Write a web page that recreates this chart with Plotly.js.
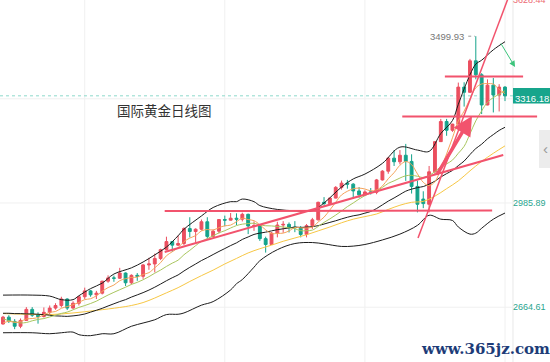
<!DOCTYPE html>
<html><head><meta charset="utf-8">
<script src="https://cdn.plot.ly/plotly-3.0.1.min.js"></script>
<style>html,body{margin:0;padding:0;background:#fff}#c{width:550px;height:362px}</style>
</head><body><div id="c"></div>
<script>
// Daily gold candles, 2024-12-26 .. 2025-04-29 (index positions 0..86)
const open = [2613,2634,2621,2606,2624,2658,2640,2636,2649,2662, 2670,2690,2662,2677,2697,2715,2703,2708,2745,2755, 2754,2770,2740,2763,2760,2795,2798,2815,2842,2867, 2856,2861,2907,2898,2905,2928,2883,2899,2935,2933, 2939,2936,2951,2915,2916,2876,2858,2893,2918,2920, 2912,2910,2889,2916,2934,2988,2984,3001,3034,3047, 3044,3023,3011,3020,3019,3057,3084,3124,3113,3133, 3114,3037,2998,2982,3082,3175,3237,3210,3229,3343, 3327,3424,3381,3288,3349,3319,3343];
const high = [2638,2640,2628,2630,2665,2665,2649,2664,2670,2677, 2697,2692,2683,2699,2725,2718,2715,2746,2763,2762, 2786,2772,2766,2770,2798,2817,2830,2845,2882,2869, 2886,2911,2942,2908,2935,2942,2904,2935,2947,2955, 2954,2956,2953,2929,2918,2882,2896,2928,2930,2926, 2930,2915,2921,2940,2990,3004,3001,3038,3055,3057, 3047,3035,3025,3032,3060,3087,3128,3149,3149,3168, 3136,3055,3022,3100,3175,3245,3245,3230,3357,3358, 3430,3499.93,3386,3367,3371,3352,3346];
const low = [2611,2616,2597,2600,2622,2635,2614,2633,2642,2657, 2664,2656,2660,2670,2690,2697,2690,2704,2740,2743, 2752,2730,2735,2746,2752,2780,2772,2810,2840,2835, 2853,2856,2880,2864,2901,2876,2881,2892,2914,2932, 2918,2929,2890,2900,2869,2833,2857,2880,2894,2895, 2896,2880,2880,2906,2932,2978,2982,3000,3027,3030, 2999,3002,3007,3012,3013,3055,3076,3100,3105,3054, 3015,2957,2970,2957,3073,3174,3193,3205,3228,3283, 3325,3367,3260,3287,3265,3268,3300];
const close = [2634,2621,2606,2624,2658,2640,2636,2649,2662,2670, 2690,2662,2677,2697,2715,2703,2708,2745,2755,2754, 2770,2740,2763,2760,2795,2798,2815,2842,2867,2856, 2861,2907,2898,2905,2928,2883,2899,2935,2933,2939, 2936,2951,2915,2916,2876,2858,2893,2918,2920,2910, 2910,2889,2916,2934,2988,2984,3001,3034,3047,3044, 3023,3011,3020,3019,3057,3084,3124,3113,3133,3114, 3037,2982,2984,3082,3175,3237,3210,3229,3343,3327, 3424,3381,3288,3349,3319,3343,3316.18];

const ma5 = [2615.8,2621.2,2618,2620.4,2628.6,2629.8,2632.8,2641.4,2649,2651.4, 2661.4,2666.6,2672.2,2679.2,2688.2,2690.8,2700,2713.6,2725.2,2733, 2746.4,2752.8,2756.4,2757.4,2765.6,2771.2,2786.2,2802,2823.4,2835.6, 2848.2,2866.6,2877.8,2885.4,2899.8,2904.2,2902.6,2910,2915.6,2917.8, 2928.4,2938.8,2934.8,2931.4,2918.8,2903.2,2891.6,2892.2,2893,2899.8, 2910.2,2909.4,2909,2911.8,2927.4,2942.2,2964.6,2988.2,3010.8,3022, 3029.8,3031.8,3029,3023.4,3026,3038.2,3060.8,3079.4,3102.2,3113.6, 3104.2,3075.8,3049.6,3039.4,3051.6,3091.6,3137.2,3186.6,3238.8,3269.2, 3306.6,3340.8,3352.6,3353.8,3352.2,3336,3323];
const ma10 = [2629.2,2623.3,2619.1,2616.3,2617.5,2622.8,2627,2629.7,2634.7,2640, 2645.6,2649.7,2656.8,2664.1,2669.8,2676.1,2683.3,2692.9,2702.2,2710.6, 2718.6,2726.4,2735,2741.3,2749.3,2758.8,2769.5,2779.2,2790.4,2800.6, 2809.7,2826.4,2839.9,2854.4,2867.7,2876.2,2884.6,2893.9,2900.5,2908.8, 2916.3,2920.7,2922.4,2923.5,2918.3,2915.8,2915.2,2913.5,2912.2,2909.3, 2906.7,2900.5,2900.6,2902.4,2913.6,2926.2,2937,2948.6,2961.3,2974.7, 2986,2998.2,3008.6,3017.1,3024,3034,3046.3,3054.2,3062.8,3069.8, 3071.2,3068.3,3064.5,3070.8,3082.6,3097.9,3106.5,3118.1,3139.1,3160.4, 3199.1,3239,3269.6,3296.3,3310.7,3321.3,3331.9];
const bbMid = [2646,2646,2645,2645,2644,2644,2643,2642,2640,2638, 2637.3,2636.5,2638,2640.2,2643.7,2649.5,2655.2,2661.3,2668.5,2675.3, 2682.1,2688.1,2695.9,2702.7,2709.6,2717.5,2726.4,2736.1,2746.3,2755.6, 2764.2,2776.4,2787.5,2797.9,2808.5,2817.5,2827.1,2836.6,2845.5,2854.7, 2863,2873.6,2881.2,2889,2893,2896,2899.9,2903.7,2906.4,2909.1, 2911.5,2910.6,2911.5,2913,2916,2921,2926.1,2931.1,2936.8,2942, 2946.4,2949.4,2954.6,2959.8,2968.8,2980.1,2991.7,3001.4,3012,3022.3, 3028.6,3033.3,3036.6,3044,3053.3,3066,3076.4,3086.2,3101,3115.1, 3135.2,3153.7,3167.1,3183.6,3196.7,3209.6,3219.2];

const bbIdx = [0,5,8,10,12,13,15,17,19,22,24,26,28,30,31,34,36,39,40,41,43,44,47,50,53,55,58,60,62,65,68,71,73,75,77,78,80,81,82,84,86];
const bbUpper = [2702,2702,2699,2688,2688,2700,2722,2739,2767,2786,2804,2826,2850,2885,2905,2946,2972,2990,2990,2998,2990,2978,2966,2962,2962,2986,3035,3060,3075,3108,3158,3149,3145,3200,3240,3290,3381,3414,3426,3458,3483];
const bbLower = [2586,2586,2583,2586,2588,2580,2577,2583,2583,2606,2616,2626,2642,2643,2647,2671,2682,2718,2737,2750,2788,2808,2842,2861,2864,2860,2852,2853,2858,2872,2890,2917,2948,2936,2932,2912,2890,2893,2908,2936,2955];

const ma30Idx = [0,4,8,12,16,20,22,24,26,28,30,32,34,36,38,40,42,44,46,48,50,52,54,56,58,60,62,64,66,68,70,72,74,76,78,80,82,84,86];
const ma30 = [2645,2643,2642,2647,2655,2664,2670,2679,2693,2709,2725,2744,2762,2779,2798,2815,2832,2845,2856,2868,2878,2888,2900,2912,2925,2936,2944,2952,2966,2979,2988,2991,3007,3030,3054,3085,3114,3139,3162];

const axisTicks = [2664.61, 2985.89, 3307.17];
const axisLabels = ['2664.61', '2985.89'];
const topLabel = '3628.44';
const lastPrice = 3316.18;
const peakPrice = 3499.93;
const title = '国际黄金日线图';

const xs = close.map((_, i) => i);
const RED = '#eb4f5f', GRN = '#14a38b', TL = '#f2536d';
const X0 = -0.514, XR = 87.37, X1 = 93.71;

const traces = [
  {type:'candlestick', x:xs, open:open, high:high, low:low, close:close,
   increasing:{line:{color:RED,width:1}, fillcolor:RED},
   decreasing:{line:{color:GRN,width:1}, fillcolor:GRN},
   whiskerwidth:0, hoverinfo:'skip'},
  {type:'scatter', mode:'lines', x:ma30Idx, y:ma30, line:{color:'#f7c744',width:1,shape:'spline'}},
  {type:'scatter', mode:'lines', x:bbIdx, y:bbUpper, line:{color:'#1c1c1c',width:1,shape:'spline'}},
  {type:'scatter', mode:'lines', x:bbIdx, y:bbLower, line:{color:'#1c1c1c',width:1,shape:'spline'}},
  {type:'scatter', mode:'lines', x:xs, y:bbMid, line:{color:'#1c1c1c',width:1,shape:'spline'}},
  {type:'scatter', mode:'lines', x:xs, y:ma10, line:{color:'#a9c65e',width:1,shape:'spline'}},
  {type:'scatter', mode:'lines', x:xs, y:ma5, line:{color:'#f5a35a',width:1,shape:'spline'}}
];

const shapes = [];
[14,38,62,86].forEach(v => shapes.push({type:'line',xref:'x',yref:'paper',x0:v,x1:v,y0:0,y1:1,layer:'below',line:{color:'#f0f0f0',width:1}}));
axisTicks.forEach(v => shapes.push({type:'line',xref:'x',yref:'y',x0:X0,x1:XR,y0:v,y1:v,layer:'below',line:{color:'#f0f0f0',width:1}}));
shapes.push({type:'line',xref:'x',yref:'paper',x0:XR,x1:XR,y0:0,y1:1,layer:'below',line:{color:'#e8e8e8',width:1}});
shapes.push({type:'line',xref:'x',yref:'y',x0:X0,x1:XR,y0:lastPrice,y1:lastPrice,layer:'below',line:{color:'#8ed9cb',width:1,dash:'dot'}});
// trend lines
shapes.push({type:'line',x0:27.7,y0:2961,x1:83.8,y1:2963,line:{color:TL,width:2}});
shapes.push({type:'line',x0:27.7,y0:2835,x1:85.7,y1:3134,line:{color:TL,width:2}});
shapes.push({type:'line',x0:68.4,y0:3252.5,x1:91.5,y1:3252.5,line:{color:TL,width:2}});
shapes.push({type:'line',x0:75.7,y0:3376,x1:89.1,y1:3376,line:{color:TL,width:2}});
shapes.push({type:'line',x0:71.1,y0:2878,x1:86.7,y1:3625,line:{color:TL,width:1.5}});
// peak dotted
shapes.push({type:'line',x0:79.7,y0:peakPrice,x1:80.85,y1:peakPrice,line:{color:'#999',width:1,dash:'dot'}});
// price box
shapes.push({type:'rect',x0:XR,x1:X1+1,y0:3292.6,y1:3340.3,fillcolor:'#17a58c',line:{width:0}});
// side tab
shapes.push({type:'rect',x0:91.83,x1:X1+1,y0:3093.8,y1:3210.9,fillcolor:'#ececec',line:{width:0}});

const F = 'Liberation Sans, Arial, sans-serif';
const XL = 93.45; // right edge for axis labels
const annotations = [
  {x:27.75,y:3272,text:title,showarrow:false,font:{family:'Noto Sans CJK SC',size:13.5,color:'#333'}},
  {x:XL,y:2985.89,xanchor:'right',text:axisLabels[1],showarrow:false,font:{family:F,size:9,color:'#2aa58f'}},
  {x:XL,y:2664.61,xanchor:'right',text:axisLabels[0],showarrow:false,font:{family:F,size:9,color:'#2aa58f'}},
  {x:XL,xref:'x',y:1.0,yref:'paper',xanchor:'right',yanchor:'middle',text:topLabel,showarrow:false,font:{family:F,size:9,color:'#ec6a74'}},
  {x:90.55,y:lastPrice-7,text:'3316.18',showarrow:false,font:{family:F,size:9.5,color:'#fff'}},
  {x:79.4,y:peakPrice,xanchor:'right',text:'3499.93',showarrow:false,font:{family:F,size:9.5,color:'#777'}},
  {x:93.0,y:3155,text:'‹',showarrow:false,font:{family:F,size:15,color:'#999'}},
  {x:82.58,y:2536,text:'www.365jz.com',showarrow:false,font:{family:'DejaVu Serif, serif',size:15,color:'#1d3c78',weight:'bold'}},
  {x:80.35,y:3254,ax:74.18,ay:3069,axref:'x',ayref:'y',xref:'x',yref:'y',showarrow:true,arrowhead:2,arrowsize:1.1,arrowwidth:3.5,arrowcolor:TL,text:''},
  {x:87.72,y:3405,ax:85.15,ay:3482,axref:'x',ayref:'y',xref:'x',yref:'y',showarrow:true,arrowhead:2,arrowsize:1.2,arrowwidth:1,arrowcolor:'#3cc47c',text:''}
];

const layout = {
  width:550, height:362, margin:{l:0,r:0,t:0,b:0},
  paper_bgcolor:'#fff', plot_bgcolor:'#fff', showlegend:false, hovermode:false, dragmode:false,
  xaxis:{range:[X0,X1],showgrid:false,zeroline:false,showticklabels:false,showline:false,rangeslider:{visible:false},fixedrange:true},
  yaxis:{range:[2495.85,3611.5],showgrid:false,zeroline:false,showticklabels:false,showline:false,fixedrange:true},
  shapes:shapes, annotations:annotations
};
Plotly.newPlot('c', traces, layout, {staticPlot:true, displayModeBar:false});
</script></body></html>
